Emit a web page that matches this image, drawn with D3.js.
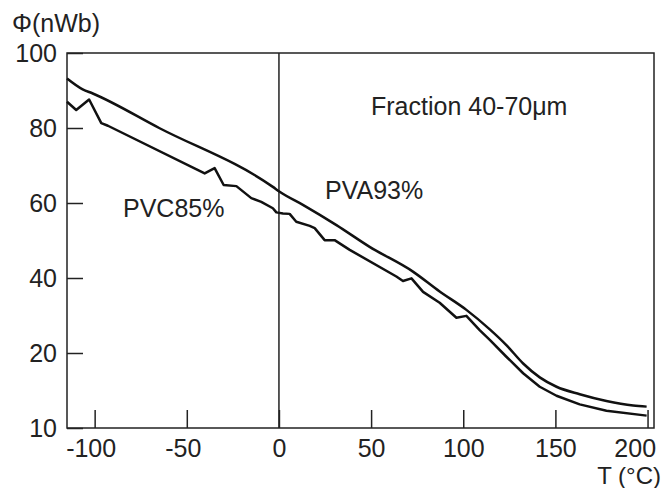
<!DOCTYPE html>
<html>
<head>
<meta charset="utf-8">
<script src="https://cdn.jsdelivr.net/npm/d3@7"></script>
<style>
  body { margin: 0; background: #fff; }
  svg text { font-family: "Liberation Sans", Arial, sans-serif; fill: #222; }
</style>
</head>
<body>
<svg id="chart"></svg>
<script>
// Donnees
const pvaT   = [-115, -106.5, -101, -65, -3.3, 0.4, 13, 31.2, 49.2, 72.7, 87.2, 101.7, 114.4, 123.4, 132.5, 141.5, 150.6, 163.2, 177.7, 192.2, 199.5];
const pvaPhi = [93.2, 90.3, 89.2, 80, 64.3, 63.0, 59.5, 54.1, 48.3, 41.7, 36.4, 31.5, 26.3, 22.1, 17.2, 13.5, 11.0, 9.0, 7.2, 6.0, 5.7];

const pvcT   = [-115, -110, -103, -96.4, -92.8, -40.3, -34.9, -30, -23.1, -15, -9.6, -3.3, -1.4, 2.2, 5.8, 9.4, 16.7, 19.4, 24.8, 30.2, 38.4, 63.7, 67.3, 71.9, 78.2, 87.2, 96.3, 101.7, 108.9, 114.4, 123.4, 132.5, 141.5, 150.6, 163.2, 177.7, 199.5];
const pvcPhi = [87.0, 84.8, 87.6, 81.3, 80.6, 67.9, 69.3, 64.8, 64.5, 61.3, 60.3, 58.6, 57.5, 57.2, 57.1, 55.0, 53.9, 53.3, 50.1, 50.1, 47.5, 40.4, 39.2, 39.9, 36.3, 33.4, 29.4, 29.9, 26.1, 23.5, 19.0, 14.6, 11.0, 8.6, 6.3, 4.6, 3.3];

const xTicks = [-100, -50, 0, 50, 100, 150, 200];
const yTicks = [0, 20, 40, 60, 80, 100];
const yTickLabels = ["10", "20", "40", "60", "80", "100"];

const fullWidth = 665, fullHeight = 488;
const margin = {top: 53, right: 11, bottom: 60, left: 67};
const width = fullWidth - margin.left - margin.right;
const height = fullHeight - margin.top - margin.bottom;

const svg = d3.select('#chart').attr('width', fullWidth).attr('height', fullHeight);
const g = svg.append('g').attr('transform', `translate(${margin.left},${margin.top})`);

const x = d3.scaleLinear().domain([-115, 203.5]).range([0, width]);
const y = d3.scaleLinear().domain([0, 100]).range([height, 0]);

// Cadre
g.append('rect')
  .attr('width', width).attr('height', height)
  .attr('fill', 'none').attr('stroke', '#222').attr('stroke-width', 1.5);

// Ligne verticale a T = 0
g.append('line')
  .attr('x1', x(0)).attr('x2', x(0)).attr('y1', 0).attr('y2', height)
  .attr('stroke', '#222').attr('stroke-width', 1.5);

// Axes (graduations vers l'interieur)
const xAxis = g.append('g')
  .attr('transform', `translate(0,${height})`)
  .call(d3.axisBottom(x).tickValues(xTicks).tickSize(-18).tickPadding(11).tickFormat(d => String(d)));
xAxis.select('.domain').remove();
xAxis.selectAll('line').attr('stroke', '#222').attr('stroke-width', 1.5);
xAxis.selectAll('text')
  .style('font-size', '25px')
  .attr('x', d => d < 0 ? -4 : (d === 200 ? 8 : 0))
  .attr('text-anchor', d => d === 200 ? 'end' : 'middle');

const yAxis = g.append('g')
  .call(d3.axisLeft(y).tickValues(yTicks).tickSize(-16).tickPadding(10).tickFormat((d, i) => yTickLabels[i]));
yAxis.select('.domain').remove();
yAxis.selectAll('line').attr('stroke', '#222').attr('stroke-width', 1.5);
yAxis.selectAll('text').style('font-size', '25px');

// Courbes
const smooth = d3.line()
  .x(d => x(d[0]))
  .y(d => y(d[1]))
  .curve(d3.curveMonotoneX);

const jagged = d3.line()
  .x(d => x(d[0]))
  .y(d => y(d[1]));

g.append('path')
  .datum(d3.zip(pvaT, pvaPhi))
  .attr('fill', 'none').attr('stroke', '#111').attr('stroke-width', 2.5)
  .attr('stroke-linejoin', 'round')
  .attr('d', smooth);

g.append('path')
  .datum(d3.zip(pvcT, pvcPhi))
  .attr('fill', 'none').attr('stroke', '#111').attr('stroke-width', 2.5)
  .attr('stroke-linejoin', 'round')
  .attr('d', jagged);

// Textes
svg.append('text').attr('x', 12).attr('y', 32).style('font-size', '25px').text('Φ(nWb)');
svg.append('text').attr('x', 661).attr('y', 484).attr('text-anchor', 'end').style('font-size', '24px').text('T (°C)');
svg.append('text').attr('x', 371).attr('y', 115).style('font-size', '25px').text('Fraction 40-70μm');
svg.append('text').attr('x', 123).attr('y', 217).style('font-size', '25px').text('PVC85%');
svg.append('text').attr('x', 325).attr('y', 199).style('font-size', '25px').text('PVA93%');
</script>
</body>
</html>
